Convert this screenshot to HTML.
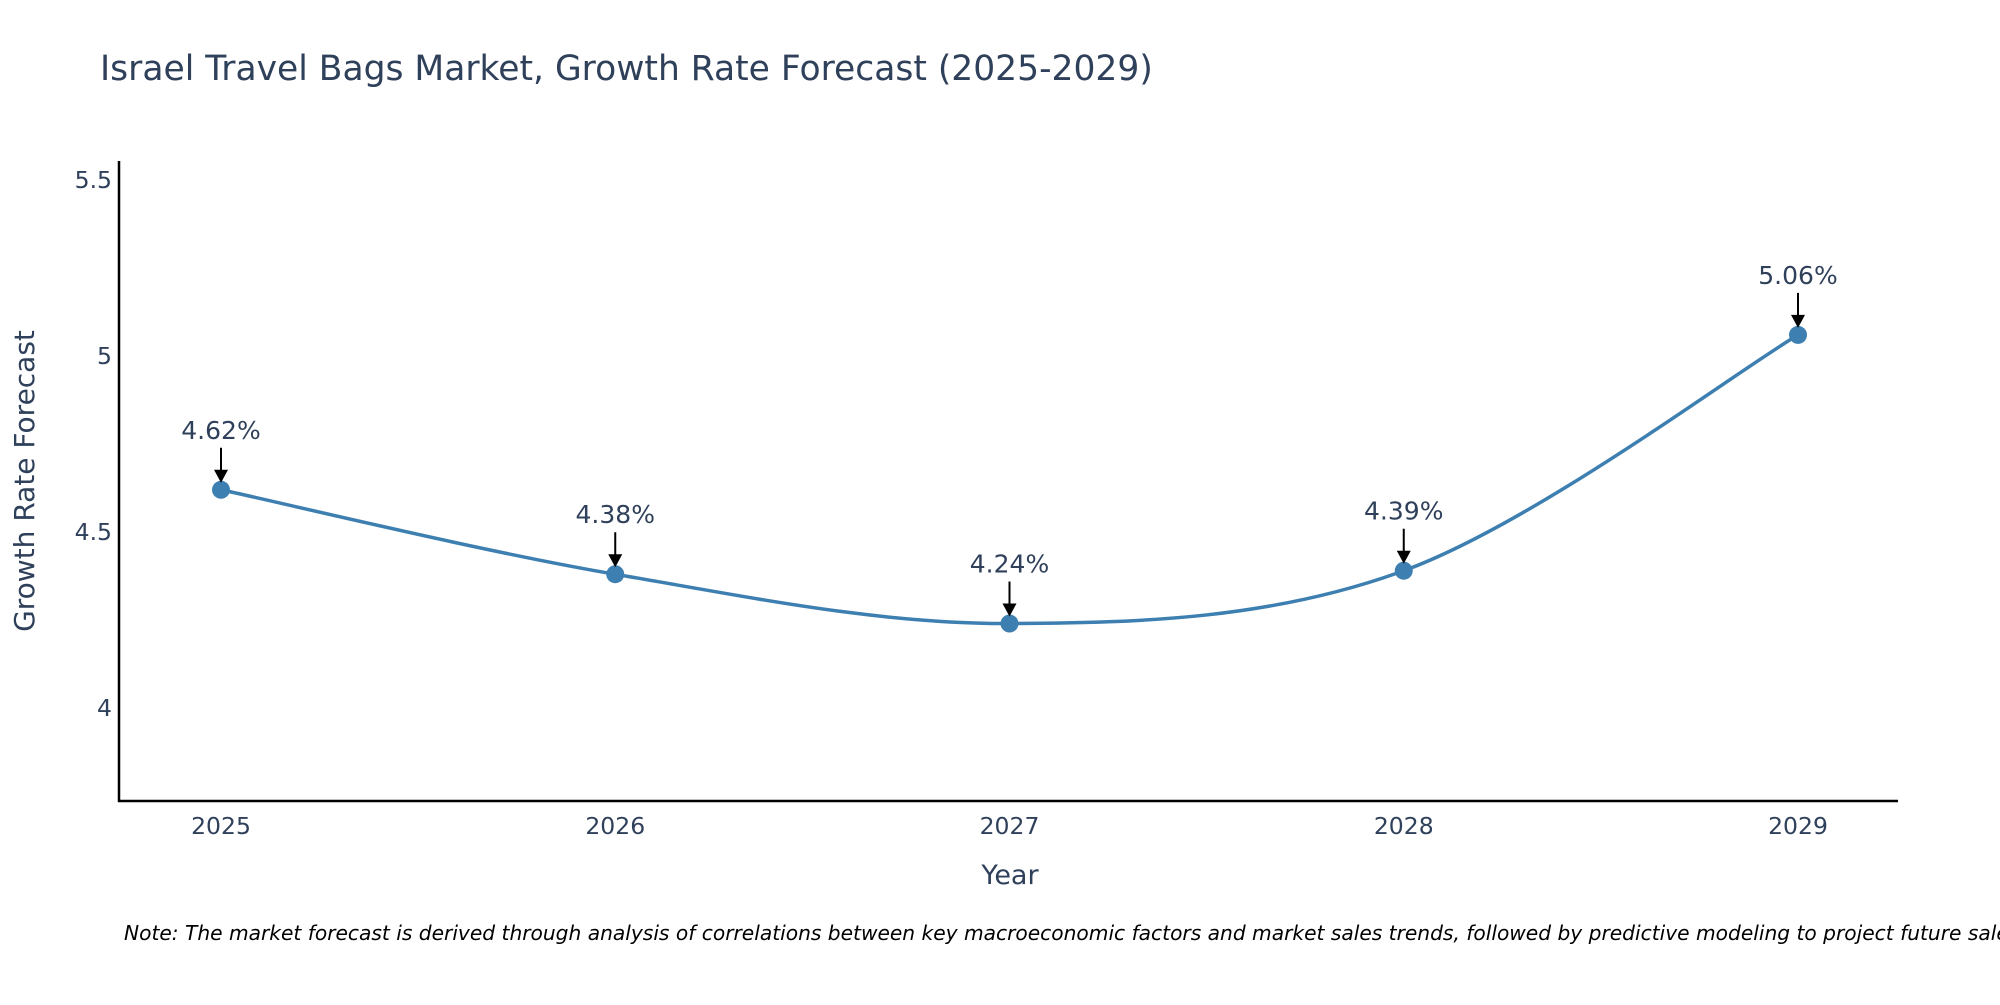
<!DOCTYPE html>
<html><head><meta charset="utf-8"><style>
body{margin:0;background:#fff;}
svg text{font-family:"DejaVu Sans","Liberation Sans",sans-serif;fill:#2f405a;}
</style></head><body>
<svg id="chart" width="2000" height="1000" viewBox="0 0 2000 1000">
<text x="100" y="80" font-size="34.5">Israel Travel Bags Market, Growth Rate Forecast (2025-2029)</text>
<g id="yticks"></g>
<g id="xticks"></g>
<line x1="119" y1="161" x2="119" y2="802" stroke="#000" stroke-width="2.5"/>
<line x1="118" y1="801" x2="1898" y2="801" stroke="#000" stroke-width="2.5"/>
<path id="line" fill="none" stroke="#3d7fb0" stroke-width="3.5"/>
<g id="marks"></g>
<text x="1010" y="884" font-size="27" text-anchor="middle">Year</text>
<text transform="translate(34,481) rotate(-90)" font-size="28" text-anchor="middle">Growth Rate Forecast</text>
<text x="124" y="940" font-size="20.2" font-style="italic" style="fill:#000">Note: The market forecast is derived through analysis of correlations between key macroeconomic factors and market sales trends, followed by predictive modeling to project future sales.</text>
</svg>
<script>
const years=[2025,2026,2027,2028,2029];
const values=[4.62,4.38,4.24,4.39,5.06];
const labels=["4.62%","4.38%","4.24%","4.39%","5.06%"];
const yTicks=[4,4.5,5,5.5];
const yTickLabels=["4","4.5","5","5.5"];
const NS="http://www.w3.org/2000/svg";
function xs(v){return 221+(v-2025)*394.25;}
function ys(v){return 356-(v-5)*352;}
function mk(tag,attrs,parent){const e=document.createElementNS(NS,tag);for(const k in attrs)e.setAttribute(k,attrs[k]);parent.appendChild(e);return e;}
const yg=document.getElementById('yticks');
yTicks.forEach((t,i)=>{const e=mk('text',{x:112,y:ys(t)+8,'font-size':23.5,'text-anchor':'end'},yg);


e.textContent=yTickLabels[i];});
const xg=document.getElementById('xticks');
years.forEach(y=>{const e=mk('text',{x:xs(y),y:834,'font-size':23.5,'text-anchor':'middle'},xg);


e.textContent=y;});
const P=years.map((y,i)=>[xs(y),ys(values[i])]);
let d=`M${P[0][0]},${P[0][1]}`;const s=1/6;
for(let i=0;i<P.length-1;i++){const p0=P[Math.max(i-1,0)],p1=P[i],p2=P[i+1],p3=P[Math.min(i+2,P.length-1)];
d+=` C${p1[0]+(p2[0]-p0[0])*s},${p1[1]+(p2[1]-p0[1])*s} ${p2[0]-(p3[0]-p1[0])*s},${p2[1]-(p3[1]-p1[1])*s} ${p2[0]},${p2[1]}`;}
document.getElementById('line').setAttribute('d',d);
const mg=document.getElementById('marks');
P.forEach((p,i)=>{
const c=mk('circle',{cx:p[0],cy:p[1],r:9,fill:'#3d7fb0'},mg);


const a=mk('path',{d:`M${p[0]},${p[1]-42}V${p[1]-18}`,stroke:'#000','stroke-width':2},mg);


const h=mk('path',{d:`M${p[0]-7},${p[1]-20}L${p[0]+7},${p[1]-20}L${p[0]},${p[1]-7}Z`,fill:'#000'},mg);


const t=mk('text',{x:p[0],y:p[1]-51,'font-size':25,'text-anchor':'middle'},mg);


t.textContent=labels[i];});
</script>
</body></html>
